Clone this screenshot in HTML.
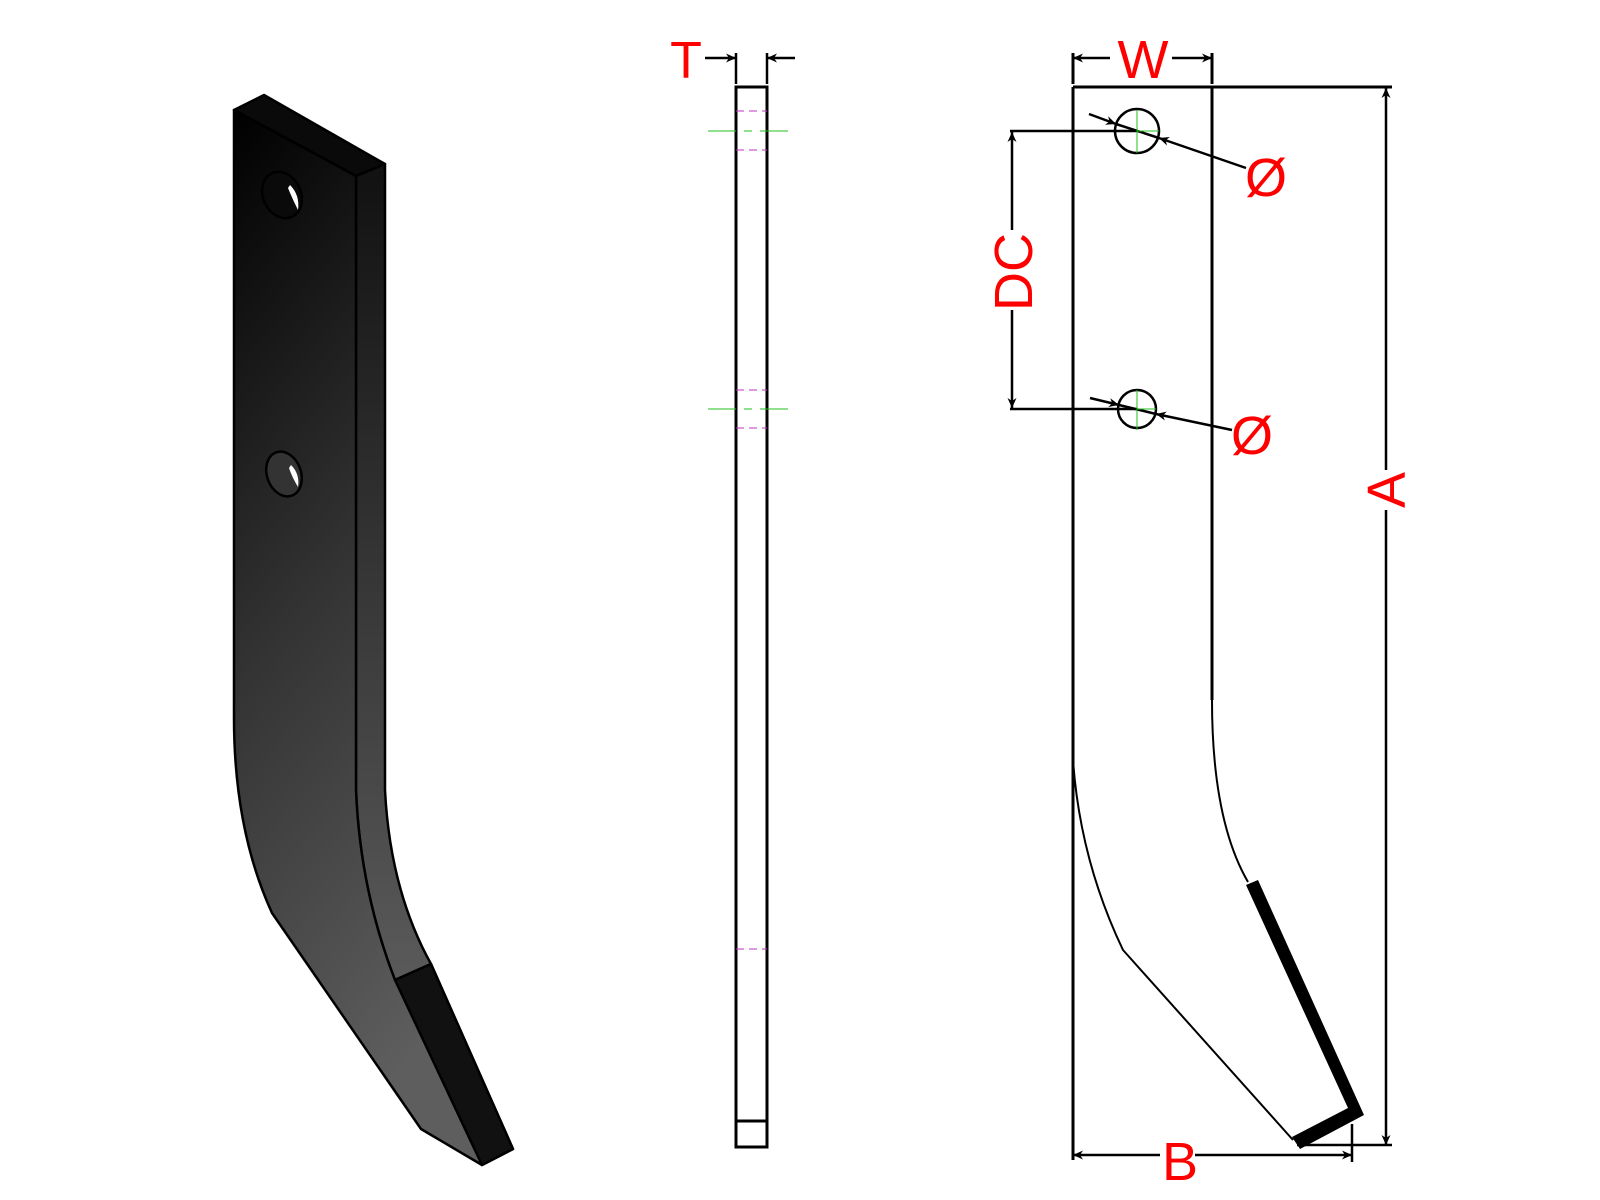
<!DOCTYPE html>
<html><head><style>html,body{margin:0;padding:0;background:#fff}svg{display:block}</style></head><body>
<svg width="1600" height="1200" viewBox="0 0 1600 1200" xmlns="http://www.w3.org/2000/svg" font-family="Liberation Sans, sans-serif">
<defs>
<linearGradient id="gf" x1="0" y1="0" x2="0.3" y2="1"><stop offset="0" stop-color="#000"/><stop offset="0.5" stop-color="#333"/><stop offset="1" stop-color="#5e5e5e"/></linearGradient>
<linearGradient id="gs" x1="0" y1="0" x2="0" y2="1"><stop offset="0" stop-color="#111"/><stop offset="1" stop-color="#5a5a5a"/></linearGradient>
<marker id="ar" viewBox="0 0 10 10" refX="10" refY="5" markerWidth="18" markerHeight="10" orient="auto-start-reverse" markerUnits="userSpaceOnUse"><path d="M0,0.5 L10,5 L0,9.5 L3,5z" fill="#000"/></marker>
</defs>
<!-- 3D view -->
<g stroke="#000" stroke-width="2.5" stroke-linejoin="round">
<path d="M234,110 L264,95 L385,164 L356,176 Z" fill="#0a0a0a"/>
<path d="M356,176 L385,164 L385,790 Q390,890 431,964 L395,980 Q360,890 356,790 Z" fill="url(#gs)"/>
<path d="M234,110 L356,176 L356,790 Q360,890 395,980 L431,964 L513,1149 L482,1165 L421,1129 L272,913 Q234,830 234,718 Z" fill="url(#gf)"/>
<path d="M395,980 L431,964 L513,1149 L482,1165 Z" fill="#111"/>
<ellipse cx="282" cy="195" rx="19" ry="24" transform="rotate(-25 282 195)" fill="#0a0a0a"/>
<ellipse cx="284" cy="474" rx="17" ry="23" transform="rotate(-20 284 474)" fill="#333"/>
</g>
<path d="M290,185 Q300,195 298,210 Q292,198 288,188Z" fill="#fff"/>
<path d="M291,465 Q300,474 298,487 Q292,477 289,468Z" fill="#fff"/>
<!-- side view -->
<g fill="none">
<rect x="736" y="87" width="31" height="1060" stroke="#000" stroke-width="3"/>
<line x1="736" y1="1121" x2="767" y2="1121" stroke="#000" stroke-width="3"/>
<g stroke="#c030c0" stroke-width="1" stroke-dasharray="8,5">
<line x1="736" y1="111" x2="767" y2="111"/><line x1="736" y1="150" x2="767" y2="150"/>
<line x1="736" y1="390" x2="767" y2="390"/><line x1="736" y1="428" x2="767" y2="428"/>
<line x1="736" y1="949" x2="767" y2="949"/></g>
<g stroke="#20c020" stroke-width="1" stroke-dasharray="28,8,8,8">
<line x1="708" y1="131" x2="792" y2="131"/><line x1="708" y1="409" x2="792" y2="409"/></g>
<g stroke="#000" stroke-width="2.5">
<line x1="736" y1="53" x2="736" y2="84"/><line x1="767" y1="53" x2="767" y2="84"/>
<line x1="705" y1="58" x2="736" y2="58" marker-end="url(#ar)"/>
<line x1="795" y1="58" x2="767" y2="58" marker-end="url(#ar)"/></g>
</g>
<text x="686" y="78" font-size="52" fill="#f00" text-anchor="middle">T</text>
<!-- front view -->
<g fill="none" stroke="#000" stroke-width="3">
<line x1="1073" y1="87" x2="1073" y2="1160"/>
<line x1="1212" y1="87" x2="1212" y2="700"/>
<line x1="1073" y1="87" x2="1392" y2="87"/>
<line x1="1073" y1="53" x2="1073" y2="84"/><line x1="1212" y1="53" x2="1212" y2="84"/>
</g>
<g fill="none" stroke="#000" stroke-width="2">
<path d="M1073,760 Q1080,860 1123,950 L1293,1140"/>
<path d="M1212,700 Q1212,820 1248,882"/>
</g>
<path d="M1246,885 L1258,880 L1364,1115 L1300,1149 L1292,1137 L1348,1108 Z" fill="#000"/>
<g stroke="#000" stroke-width="2.5" fill="none">
<line x1="1110" y1="58" x2="1073" y2="58" marker-end="url(#ar)"/>
<line x1="1172" y1="58" x2="1212" y2="58" marker-end="url(#ar)"/>
<line x1="1386" y1="470" x2="1386" y2="88" marker-end="url(#ar)"/>
<line x1="1386" y1="510" x2="1386" y2="1145" marker-end="url(#ar)"/>
<line x1="1297" y1="1145" x2="1392" y2="1145"/>
<line x1="1352" y1="1124" x2="1352" y2="1162"/>
<line x1="1160" y1="1155" x2="1073" y2="1155" marker-end="url(#ar)"/>
<line x1="1195" y1="1155" x2="1352" y2="1155" marker-end="url(#ar)"/>
<line x1="1010" y1="131" x2="1137" y2="131"/>
<line x1="1010" y1="409" x2="1137" y2="409"/>
<line x1="1012" y1="230" x2="1012" y2="132" marker-end="url(#ar)"/>
<line x1="1012" y1="310" x2="1012" y2="408" marker-end="url(#ar)"/>
<circle cx="1137" cy="131" r="22"/>
<circle cx="1137" cy="409" r="19"/>
<line x1="1089" y1="114" x2="1116" y2="124" marker-end="url(#ar)"/>
<line x1="1116" y1="124" x2="1159" y2="138"/>
<line x1="1246" y1="168" x2="1159" y2="138" marker-end="url(#ar)"/>
<line x1="1090" y1="398" x2="1119" y2="405" marker-end="url(#ar)"/>
<line x1="1119" y1="405" x2="1156" y2="414"/>
<line x1="1232" y1="430" x2="1156" y2="414" marker-end="url(#ar)"/>
</g>
<g stroke="#20c020" stroke-width="1">
<line x1="1137" y1="110" x2="1137" y2="153"/><line x1="1137" y1="131" x2="1159" y2="131"/>
<line x1="1137" y1="390" x2="1137" y2="430"/><line x1="1137" y1="409" x2="1156" y2="409"/>
</g>
<g fill="#f00" font-size="54" text-anchor="middle">
<text x="1143" y="78">W</text>
<text x="1180" y="1180">B</text>
<text x="1266" y="196">Ø</text>
<text x="1252" y="454">Ø</text>
<text transform="translate(1032,272) rotate(-90)">DC</text>
<text transform="translate(1405,490) rotate(-90)">A</text>
</g>
</svg>
</body></html>
